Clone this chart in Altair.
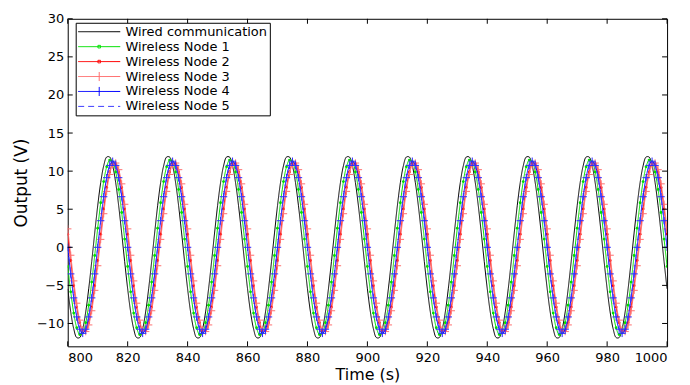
import altair as alt
import pandas as pd

t_start = 800
t_end = 1000
wired_cycle = [-5.45, -8.49, -10.69, -11.85, -11.85, -10.69, -8.49, -5.45, -1.88, 1.88,
               5.45, 8.49, 10.69, 11.85, 11.85, 10.69, 8.49, 5.45, 1.88, -1.88]
node1_cycle = [-2.51, -5.85, -8.63, -10.56, -11.45, -11.22, -9.90, -7.60, -4.57, -1.08,
               2.51, 5.85, 8.63, 10.56, 11.45, 11.22, 9.90, 7.60, 4.57, 1.08]
node2_cycle = [1.73, -1.73, -5.04, -7.85, -9.89, -10.97, -10.97, -9.89, -7.85, -5.04,
               -1.73, 1.73, 5.04, 7.85, 9.89, 10.97, 10.97, 9.89, 7.85, 5.04]
node3_cycle = [2.42, -1.04, -4.41, -7.34, -9.56, -10.83, -11.06, -10.19, -8.33, -5.65,
               -2.42, 1.04, 4.41, 7.34, 9.56, 10.83, 11.06, 10.19, 8.33, 5.65]
node4_cycle = [0.0, -3.49, -6.64, -9.14, -10.75, -11.3, -10.75, -9.14, -6.64, -3.49,
               0.0, 3.49, 6.64, 9.14, 10.75, 11.3, 10.75, 9.14, 6.64, 3.49]
node5_cycle = [0.0, -3.46, -6.58, -9.06, -10.65, -11.2, -10.65, -9.06, -6.58, -3.46,
               0.0, 3.46, 6.58, 9.06, 10.65, 11.2, 10.65, 9.06, 6.58, 3.46]

series_names = ["Wired communication", "Wireless Node 1", "Wireless Node 2",
                "Wireless Node 3", "Wireless Node 4", "Wireless Node 5"]
cycles = [wired_cycle, node1_cycle, node2_cycle, node3_cycle, node4_cycle, node5_cycle]
series_colors = ["#000000", "#00e000", "#ff0000", "#ff6e6e", "#0000ff", "#3c3cff"]
series_dashes = [[1, 0], [1, 0], [1, 0], [1, 0], [1, 0], [6, 4]]

# legend glyphs: a line, optionally with the series marker in the middle
LINE = "M-1,0L5.5,0"
DOT = "M2.05,-0.2L2.45,-0.2L2.45,0.2L2.05,0.2Z"
VBAR = "M2.25,-0.7L2.25,0.7"
legend_shapes = [LINE, LINE + DOT, LINE + DOT, LINE + VBAR, LINE + VBAR, LINE]

x_ticks = [800, 820, 840, 860, 880, 900, 920, 940, 960, 980, 1000]
y_ticks = [-10, -5, 0, 5, 10, 15, 20, 25, 30]

rows = []
for name, cyc in zip(series_names, cycles):
    for t in range(t_start, t_end + 1):
        rows.append({"series": name, "t": t, "value": cyc[(t - t_start) % len(cyc)]})
df = pd.DataFrame(rows)

W, H = 602, 329
FONT = "DejaVu Sans"

xs = alt.Scale(domain=[t_start, t_end], nice=False, zero=False)
ys = alt.Scale(domain=[-13, 30], nice=False, zero=False)
X = alt.X("t:Q", scale=xs, axis=alt.Axis(values=x_ticks, title="Time (s)", format="d",
                                         labelPadding=5, titlePadding=2, titleFontSize=16))
Y = alt.Y("value:Q", scale=ys, axis=alt.Axis(values=y_ticks, title="Output (V)", format="d",
                                             labelPadding=4, titlePadding=6, titleFontSize=17))

legend = alt.Legend(orient="none", legendX=8, legendY=4, title=None,
                    symbolType=LINE, symbolSize=169, symbolStrokeWidth=1,
                    labelFont=FONT, labelFontSize=13, labelColor="black",
                    strokeColor="black", fillColor="white", padding=2,
                    rowPadding=1, labelOffset=34, labelLimit=400)
COLOR = alt.Color("series:N", scale=alt.Scale(domain=series_names, range=series_colors),
                  legend=legend)
DASH = alt.StrokeDash("series:N", scale=alt.Scale(domain=series_names, range=series_dashes),
                      legend=legend)
SHAPE = alt.Shape("series:N", scale=alt.Scale(domain=series_names, range=legend_shapes),
                  legend=legend)

base = alt.Chart(df)


def line_layer(name):
    return base.transform_filter(alt.datum.series == name).mark_line(
        strokeWidth=1, interpolate="catmull-rom", clip=True
    ).encode(x=X, y=Y, color=COLOR, strokeDash=DASH)


PLUS = "M-1,0L1,0M0,-1L0,1"


def marker_layer(name, color, shape, size, filled):
    return base.transform_filter(alt.datum.series == name).mark_point(
        shape=shape, size=size, filled=filled, color=color, strokeWidth=1,
        opacity=1, clip=True
    ).encode(x=X, y=Y)


# an empty layer that only feeds the legend its glyphs
legend_layer = base.transform_filter(alt.datum.t < 0).mark_point(
    filled=False, strokeWidth=1, opacity=1
).encode(x=X, y=Y, color=COLOR, strokeDash=DASH, shape=SHAPE)

layers = [
    line_layer(series_names[0]),
    line_layer(series_names[1]),
    marker_layer(series_names[1], "#00e000", "circle", 8, True),
    line_layer(series_names[2]),
    marker_layer(series_names[2], "#ff0000", "circle", 8, True),
    line_layer(series_names[3]),
    marker_layer(series_names[3], "#ff7070", PLUS, 55, False),
    line_layer(series_names[4]),
    marker_layer(series_names[4], "#2a2aff", PLUS, 55, False),
    line_layer(series_names[5]),
    legend_layer,
]

# inward ticks on all four sides
xt = pd.DataFrame({"t": x_ticks})
yt = pd.DataFrame({"value": y_ticks})
tick_layers = [
    alt.Chart(xt).mark_rule(color="black", strokeWidth=1).encode(x=X, y=alt.value(H), y2=alt.value(H - 5)),
    alt.Chart(xt).mark_rule(color="black", strokeWidth=1).encode(x=X, y=alt.value(0), y2=alt.value(5)),
    alt.Chart(yt).mark_rule(color="black", strokeWidth=1).encode(y=Y, x=alt.value(0), x2=alt.value(5)),
    alt.Chart(yt).mark_rule(color="black", strokeWidth=1).encode(y=Y, x=alt.value(W), x2=alt.value(W - 5)),
]

chart = alt.layer(*layers, *tick_layers).properties(
    width=W, height=H,
    padding={"left": 60, "top": 10, "right": 15, "bottom": 36},
    autosize=alt.AutoSizeParams(type="none"),
    background="white",
).configure_view(
    stroke="black", strokeWidth=1
).configure_axis(
    domain=False, grid=False, ticks=False,
    labelFont=FONT, labelFontSize=13, labelColor="black",
    titleFont=FONT, titleFontWeight="normal", titleColor="black",
)

chart.save("out.html", embed_options={"renderer": "svg", "actions": False})
